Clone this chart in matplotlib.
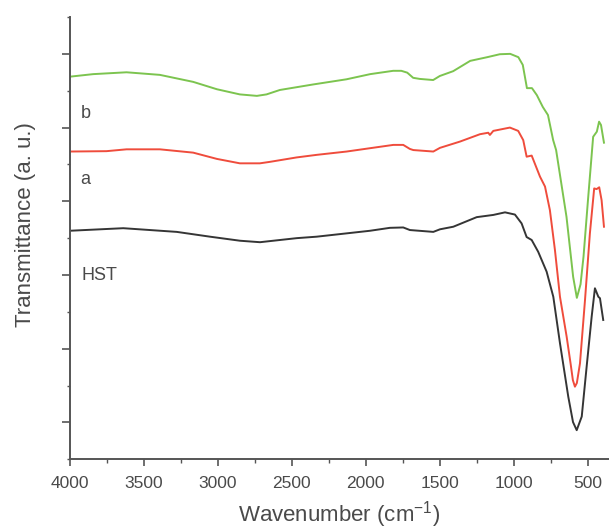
import matplotlib
matplotlib.use("Agg")
import matplotlib.pyplot as plt
from matplotlib.ticker import MultipleLocator, FixedLocator

plt.rcParams['font.family'] = ['Liberation Sans', 'DejaVu Sans']

# HST (black)
hst_wn = [4000, 3637, 3276, 3052, 2849, 2714, 2647, 2466, 2331, 2129, 1972, 1837, 1747, 1702,
          1544, 1499, 1409, 1251, 1139, 1060, 993, 948, 914, 880, 836, 779, 734, 689, 633,
          601, 576, 542, 509, 475, 453, 430, 419, 397]
hst_t = [6.20, 6.27, 6.17, 6.04, 5.93, 5.89, 5.92, 6.00, 6.04, 6.13, 6.20, 6.28, 6.29, 6.22,
         6.17, 6.24, 6.31, 6.57, 6.63, 6.70, 6.64, 6.40, 6.03, 5.95, 5.63, 5.09, 4.41, 3.15, 1.70,
         1.01, 0.79, 1.16, 2.51, 3.87, 4.64, 4.41, 4.37, 3.78]

# a (red)
a_wn = [4000, 3750, 3615, 3390, 3165, 3005, 2850, 2715, 2647, 2467, 2331, 2129, 1972, 1814,
        1747, 1702, 1679, 1544, 1499, 1364, 1229, 1173, 1162, 1139, 1027, 971, 937, 914, 880,
        824, 790, 757, 723, 689, 644, 616, 602, 588, 575, 554, 520, 487, 458, 442, 424, 408, 392]
a_t = [8.35, 8.36, 8.41, 8.41, 8.32, 8.15, 8.03, 8.03, 8.07, 8.19, 8.26, 8.35, 8.44, 8.53,
       8.53, 8.42, 8.39, 8.35, 8.45, 8.62, 8.82, 8.86, 8.80, 8.91, 9.00, 8.91, 8.66, 8.21, 8.24,
       7.67, 7.40, 6.76, 5.68, 4.41, 3.33, 2.56, 2.15, 1.97, 2.07, 2.60, 4.32, 6.13, 7.35, 7.33,
       7.38, 7.03, 6.31]

# b (green)
b_wn = [4000, 3840, 3615, 3390, 3165, 3005, 2850, 2735, 2670, 2580, 2355, 2130, 1970, 1815,
        1760, 1720, 1680, 1635, 1545, 1500, 1410, 1295, 1180, 1095, 1025, 970, 940, 912, 878,
        845, 805, 770, 735, 715, 645, 600, 575, 550, 530, 500, 465, 440, 425, 412, 392]
b_t = [10.38, 10.45, 10.50, 10.43, 10.24, 10.04, 9.90, 9.86, 9.90, 10.02, 10.17, 10.31, 10.45,
       10.54, 10.54, 10.49, 10.35, 10.32, 10.29, 10.40, 10.53, 10.81, 10.91, 10.99, 11.00, 10.91,
       10.70, 10.07, 10.07, 9.88, 9.56, 9.34, 8.66, 8.39, 6.58, 4.95, 4.38, 4.75, 5.50, 7.03,
       8.75, 8.89, 9.16, 9.07, 8.59]

series_labels = ["HST", "a", "b"]
label_pos = [(3918, 5.0), (3925, 7.58), (3925, 9.38)]
colors = ["#353535", "#ef4c3c", "#7cc44f"]
x_ticks = [4000, 3500, 3000, 2500, 2000, 1500, 1000, 500]

txt = "#4a4a4a"
fig = plt.figure(figsize=(6.09, 5.31), dpi=100)
ax = fig.add_axes([69.5 / 609, 71.7 / 531, 1 - 69.5 / 609, 442.3 / 531])

for wn, t, c in zip([hst_wn, a_wn, b_wn], [hst_t, a_t, b_t], colors):
    ax.plot(wn, t, color=c, lw=1.4)

for lab, (x, y) in zip(series_labels, label_pos):
    ax.text(x, y, lab, fontsize=13, color=txt, ha="left", va="center")

ax.set_xlim(4000, 358)
ax.set_ylim(0, 12)
ax.xaxis.set_major_locator(FixedLocator(x_ticks))
ax.xaxis.set_minor_locator(MultipleLocator(250))
ax.yaxis.set_major_locator(FixedLocator([1, 3, 5, 7, 9, 11]))
ax.yaxis.set_minor_locator(FixedLocator([0, 2, 4, 6, 8, 10, 12]))
ax.set_yticklabels([])

for s in ["top", "right"]:
    ax.spines[s].set_visible(False)
for s in ["left", "bottom"]:
    ax.spines[s].set_color("#555555")
    ax.spines[s].set_linewidth(1.4)

ax.tick_params(axis="x", which="major", direction="out", length=5, width=1.2, colors="#555555",
               labelcolor=txt, labelsize=12.5, pad=7)
ax.tick_params(axis="x", which="minor", direction="out", length=3, width=1.0, colors="#555555")
ax.tick_params(axis="y", which="major", direction="out", length=6, width=1.2, colors="#555555")
ax.tick_params(axis="y", which="minor", direction="out", length=2.5, width=1.0, colors="#555555")

ax.set_xlabel("Wavenumber (cm$\\mathregular{^{-1}}$)", fontsize=16, color=txt, labelpad=5.5)
ax.set_ylabel("Transmittance (a. u.)", fontsize=16, color=txt)
ax.yaxis.set_label_coords(-0.063, 0.53)

fig.savefig("out.png", dpi=100)
